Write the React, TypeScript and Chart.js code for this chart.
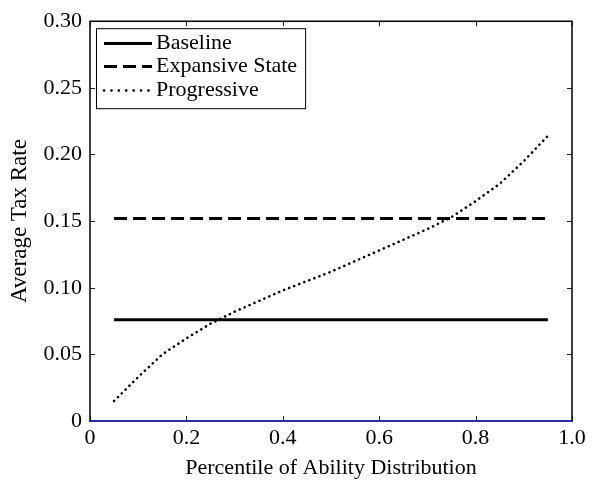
import React, { useEffect, useRef } from 'react';
import { Chart, registerables } from 'chart.js';

Chart.register(...registerables);

// ---- data ----
const percentiles = [0.05, 0.10, 0.15, 0.20, 0.25, 0.30, 0.35, 0.40, 0.45, 0.50, 0.55, 0.60, 0.65, 0.70, 0.75, 0.80, 0.85, 0.90, 0.95];
const baselineRates = [0.076, 0.076, 0.076, 0.076, 0.076, 0.076, 0.076, 0.076, 0.076, 0.076, 0.076, 0.076, 0.076, 0.076, 0.076, 0.076, 0.076, 0.076, 0.076];
const expansiveRates = [0.152, 0.152, 0.152, 0.152, 0.152, 0.152, 0.152, 0.152, 0.152, 0.152, 0.152, 0.152, 0.152, 0.152, 0.152, 0.152, 0.152, 0.152, 0.152];
const progressiveRates = [0.015, 0.033, 0.050, 0.062, 0.073, 0.082, 0.090, 0.098, 0.105, 0.112, 0.120, 0.128, 0.136, 0.144, 0.153, 0.165, 0.178, 0.195, 0.214];

const seriesLabels = ['Baseline', 'Expansive State', 'Progressive'];
const xTickValues = [0, 0.2, 0.4, 0.6, 0.8, 1.0];
const yTickValues = [0, 0.05, 0.10, 0.15, 0.20, 0.25, 0.30];
const xTitle = 'Percentile of Ability Distribution';
const yTitle = 'Average Tax Rate';

const FONT = "'Liberation Serif', 'Times New Roman', serif";

const toPoints = (ys: number[]) => percentiles.map((x, i) => ({ x, y: ys[i] }));

const framePlugin = {
  id: 'frame',
  afterDatasetsDraw(chart: any) {
    const { ctx, chartArea } = chart;
    const { left, right, top, bottom } = chartArea;
    const xs = chart.scales.x;
    const ys = chart.scales.y;
    ctx.save();
    // ticks (inward)
    ctx.strokeStyle = '#222';
    ctx.lineWidth = 1;
    const tl = 5;
    ctx.beginPath();
    xTickValues.forEach((v) => {
      const px = Math.round(xs.getPixelForValue(v)) + 0.5;
      ctx.moveTo(px, bottom);
      ctx.lineTo(px, bottom - tl);
      ctx.moveTo(px, top);
      ctx.lineTo(px, top + tl);
    });
    yTickValues.forEach((v) => {
      const py = Math.round(ys.getPixelForValue(v)) + 0.5;
      ctx.moveTo(left, py);
      ctx.lineTo(left + tl, py);
      ctx.moveTo(right, py);
      ctx.lineTo(right - tl, py);
    });
    ctx.stroke();
    // frame
    ctx.lineWidth = 1.5;
    ctx.strokeStyle = '#000';
    ctx.beginPath();
    ctx.moveTo(left, bottom);
    ctx.lineTo(left, top);
    ctx.lineTo(right, top);
    ctx.lineTo(right, bottom);
    ctx.stroke();
    ctx.strokeStyle = '#2b2ba0';
    ctx.lineWidth = 2;
    ctx.beginPath();
    ctx.moveTo(left - 1, bottom);
    ctx.lineTo(right + 1, bottom);
    ctx.stroke();
    ctx.restore();
  },
};

const legendPlugin = {
  id: 'boxLegend',
  afterDraw(chart: any) {
    const { ctx, chartArea } = chart;
    const datasets = chart.data.datasets;
    ctx.save();
    ctx.font = `22px ${FONT}`;
    ctx.textBaseline = 'middle';
    const boxX = chartArea.left + 6;
    const boxY = chartArea.top + 7;
    const sampleX0 = boxX + 8;
    const sampleX1 = boxX + 56;
    const textX = sampleX1 + 4;
    const rowH = 23.5;
    const firstRow = boxY + 14.5;
    let maxW = 0;
    datasets.forEach((d: any) => {
      maxW = Math.max(maxW, ctx.measureText(d.label).width);
    });
    const boxW = textX + maxW + 8 - boxX;
    const boxH = 80;
    ctx.fillStyle = '#fff';
    ctx.fillRect(boxX, boxY, boxW, boxH);
    ctx.strokeStyle = '#000';
    ctx.lineWidth = 1;
    ctx.strokeRect(boxX + 0.5, boxY + 0.5, boxW, boxH);
    datasets.forEach((d: any, i: number) => {
      const yy = Math.round(firstRow + i * rowH) + 0.5;
      ctx.save();
      ctx.strokeStyle = d.borderColor;
      ctx.lineWidth = d.borderWidth;
      ctx.lineCap = d.borderCapStyle || 'butt';
      ctx.setLineDash(d.legendDash || d.borderDash || []);
      ctx.beginPath();
      ctx.moveTo(sampleX0, yy);
      ctx.lineTo(sampleX1, yy);
      ctx.stroke();
      ctx.restore();
      ctx.fillStyle = '#000';
      ctx.fillText(d.label, textX, yy);
    });
    ctx.restore();
  },
};

export default function App() {
  const ref = useRef<HTMLCanvasElement>(null);
  useEffect(() => {
    const canvas = ref.current!;
    const chart = new Chart(canvas, {
      type: 'line',
      data: {
        datasets: [
          {
            label: seriesLabels[0],
            data: toPoints(baselineRates),
            borderColor: '#000',
            borderWidth: 3,
            borderCapStyle: 'butt',
            pointRadius: 0,
            fill: false,
          },
          {
            label: seriesLabels[1],
            data: toPoints(expansiveRates),
            borderColor: '#000',
            borderWidth: 3,
            borderDash: [13, 6],
            borderCapStyle: 'butt',
            pointRadius: 0,
            fill: false,
          },
          {
            label: seriesLabels[2],
            data: toPoints(progressiveRates),
            borderColor: '#000',
            borderWidth: 2.6,
            borderDash: [0.1, 5.3],
            legendDash: [0.1, 7.3],
            borderCapStyle: 'round',
            pointRadius: 0,
            fill: false,
          },
        ],
      },
      options: {
        responsive: false,
        animation: false,
        devicePixelRatio: 1,
        layout: { padding: { left: 0, right: 40, top: 19, bottom: 0 } },
        plugins: { legend: { display: false }, tooltip: { enabled: false } },
        scales: {
          x: {
            type: 'linear',
            min: 0,
            max: 1,
            afterFit: (s: any) => {
              s.height = 61;
            },
            afterBuildTicks: (s: any) => {
              s.ticks = xTickValues.map((v) => ({ value: v }));
            },
            grid: { display: false, drawTicks: false },
            border: { display: false },
            ticks: {
              color: '#000',
              padding: 4,
              font: { family: FONT, size: 22 },
              maxRotation: 0,
              callback: (v: any) => (v === 0 ? '0' : Number(v).toFixed(1)),
            },
            title: {
              display: true,
              text: xTitle,
              color: '#000',
              font: { family: FONT, size: 22 },
              padding: { top: 0, bottom: 1 },
            },
          },
          y: {
            type: 'linear',
            min: 0,
            max: 0.3,
            afterFit: (s: any) => {
              s.width = 90;
            },
            afterBuildTicks: (s: any) => {
              s.ticks = yTickValues.map((v) => ({ value: v }));
            },
            grid: { display: false, drawTicks: false },
            border: { display: false },
            ticks: {
              color: '#000',
              padding: 8,
              font: { family: FONT, size: 22 },
              callback: (v: any) => (v === 0 ? '0' : Number(v).toFixed(2)),
            },
            title: {
              display: true,
              text: yTitle,
              color: '#000',
              font: { family: FONT, size: 23 },
              padding: { top: 6, bottom: 2 },
            },
          },
        },
      },
      plugins: [framePlugin, legendPlugin],
    } as any);
    return () => chart.destroy();
  }, []);
  return (
    <div style={{ position: 'absolute', left: 0, top: 0, width: 612, height: 482, background: '#fff' }}>
      <canvas ref={ref} width={612} height={482} style={{ display: 'block' }} />
    </div>
  );
}
